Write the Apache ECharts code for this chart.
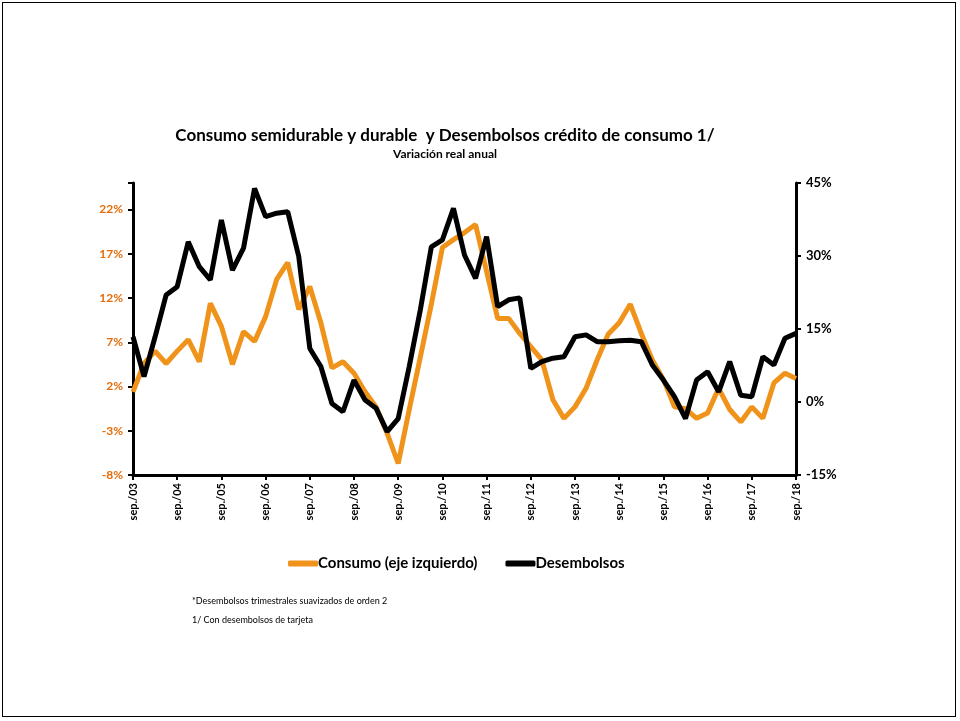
<!DOCTYPE html>
<html>
<head>
<meta charset="utf-8">
<script src="https://cdn.jsdelivr.net/npm/echarts@6/dist/echarts.min.js"></script>
<style>
  html, body { margin: 0; padding: 0; background: #fff; }
  #frame {
    position: absolute; left: 2px; top: 2px; width: 954px; height: 715px;
    border: 1.5px solid #000; box-sizing: border-box;
  }
  #chart { position: absolute; left: 0; top: 0; width: 960px; height: 721px; }
</style>
</head>
<body>
<div id="frame"></div>
<div id="chart"></div>
<script>
// trimestres sep/03 .. sep/18
const years = ['03','04','05','06','07','08','09','10','11','12','13','14','15','16','17','18']
const months = ['sep', 'dic', 'mar', 'jun']
const quarters = []
for (let y = 0; y < years.length; y++) {
  for (let q = 0; q < 4; q++) {
    if (y === years.length - 1 && q > 0) break
    const yy = q === 0 ? years[y] : years[y + 1]
    quarters.push(months[q] + './' + yy)
  }
}

// Consumo semidurable y durable (eje izquierdo, %)
const consumo = [
  1.4, 4.6, 6.0, 4.6, 6.0, 7.3, 4.8, 11.4, 8.8, 4.5,
  8.2, 7.1, 9.9, 14.1, 16.0, 10.7, 13.3, 9.2, 4.1, 4.8,
  3.5, 1.4, -0.3, -3.3, -6.7, -0.6, 5.3, 11.3, 17.7, 18.6,
  19.4, 20.3, 15.0, 9.7, 9.7, 8.0, 6.5, 5.0, 0.5, -1.6,
  -0.3, 1.8, 5.0, 7.9, 9.2, 11.3, 8.0, 5.0, 2.8, -0.3,
  -0.5, -1.6, -1.0, 1.8, -0.6, -2.0, -0.3, -1.6, 2.4, 3.5,
  2.9
]

// Desembolsos (eje derecho, %)
const desembolsos = [
  13.4, 5.2, 13.4, 22.0, 23.7, 32.9, 27.8, 25.1, 37.4, 27.1,
  31.6, 43.9, 38.1, 38.8, 39.1, 29.9, 11.0, 7.3, -0.3, -2.0,
  4.5, 0.4, -1.3, -6.1, -3.4, 7.3, 18.9, 31.9, 33.3, 39.8,
  30.2, 25.4, 34.0, 19.6, 21.0, 21.4, 6.9, 8.3, 9.0, 9.3,
  13.4, 13.8, 12.4, 12.4, 12.6, 12.7, 12.4, 7.6, 4.5, 1.1,
  -3.4, 4.5, 6.2, 2.1, 8.3, 1.4, 1.1, 9.3, 7.6, 13.1,
  14.1
]

const leftTicks = [-8, -3, 2, 7, 12, 17, 22]
const rightTicks = [-15, 0, 15, 30, 45]

const font = 'Lato, "Open Sans", sans-serif'
const chart = echarts.init(document.getElementById('chart'))

const option = {
  animation: false,
  title: {
    text: 'Consumo semidurable y durable  y Desembolsos crédito de consumo 1/',
    subtext: 'Variación real anual',
    left: 440,
    textAlign: 'center',
    top: 122,
    itemGap: 4,
    textStyle: { fontFamily: font, fontSize: 17, fontWeight: 'bold', color: '#000' },
    subtextStyle: { fontFamily: font, fontSize: 12, fontWeight: 'bold', color: '#000' }
  },
  legend: {
    top: 551,
    left: 283,
    itemWidth: 30,
    itemHeight: 6,
    itemGap: 28,
    icon: 'roundRect',
    textStyle: { fontFamily: font, fontSize: 15, fontWeight: 'bold', color: '#000', padding: [0, 0, 0, -5] },
    data: ['Consumo (eje izquierdo)', 'Desembolsos']
  },
  grid: { left: 133, right: 164, top: 183, bottom: 246, containLabel: false },
  xAxis: {
    type: 'category',
    boundaryGap: false,
    data: quarters,
    axisLine: { onZero: false, lineStyle: { color: '#000', width: 3 } },
    axisTick: { show: true, interval: 3, length: 5, lineStyle: { color: '#000', width: 2 } },
    axisLabel: {
      interval: 3,
      rotate: 90,
      margin: 8,
      fontFamily: font,
      fontSize: 11,
      fontWeight: 'bold',
      color: '#000'
    },
    splitLine: { show: false }
  },
  yAxis: [
    {
      type: 'value',
      min: -8,
      max: 25,
      interval: 5,
      position: 'left',
      axisLine: { show: true, lineStyle: { color: '#000', width: 3 } },
      axisTick: { show: true, length: 5, lineStyle: { color: '#000', width: 2 } },
      axisLabel: {
        margin: 10,
        fontFamily: font,
        fontSize: 12,
        fontWeight: 'bold',
        color: '#E46C0A',
        formatter: v => leftTicks.includes(Math.round(v)) ? Math.round(v) + '%' : ''
      },
      splitLine: { show: false }
    },
    {
      type: 'value',
      min: -15,
      max: 45,
      interval: 15,
      position: 'right',
      axisLine: { show: true, lineStyle: { color: '#000', width: 3 } },
      axisTick: { show: true, length: 5, lineStyle: { color: '#000', width: 2 } },
      axisLabel: {
        margin: 10,
        fontFamily: font,
        fontSize: 13,
        fontWeight: 'bold',
        color: '#000',
        formatter: v => rightTicks.includes(v) ? v + '%' : ''
      },
      splitLine: { show: false }
    }
  ],
  series: [
    {
      name: 'Consumo (eje izquierdo)',
      type: 'line',
      yAxisIndex: 0,
      data: consumo,
      showSymbol: false,
      symbol: 'none',
      lineStyle: { color: '#F0931A', width: 5 },
      itemStyle: { color: '#F0931A' }
    },
    {
      name: 'Desembolsos',
      type: 'line',
      yAxisIndex: 1,
      data: desembolsos,
      showSymbol: false,
      symbol: 'none',
      lineStyle: { color: '#000', width: 5 },
      itemStyle: { color: '#000' }
    }
  ],
  graphic: [
    {
      type: 'text',
      left: 192,
      top: 597,
      style: { text: '*Desembolsos trimestrales suavizados de orden 2', fontFamily: font, fontSize: 9, fill: '#000' }
    },
    {
      type: 'text',
      left: 192,
      top: 616,
      style: { text: '1/ Con desembolsos de tarjeta', fontFamily: font, fontSize: 9, fill: '#000' }
    }
  ]
}

chart.setOption(option)
</script>
</body>
</html>
